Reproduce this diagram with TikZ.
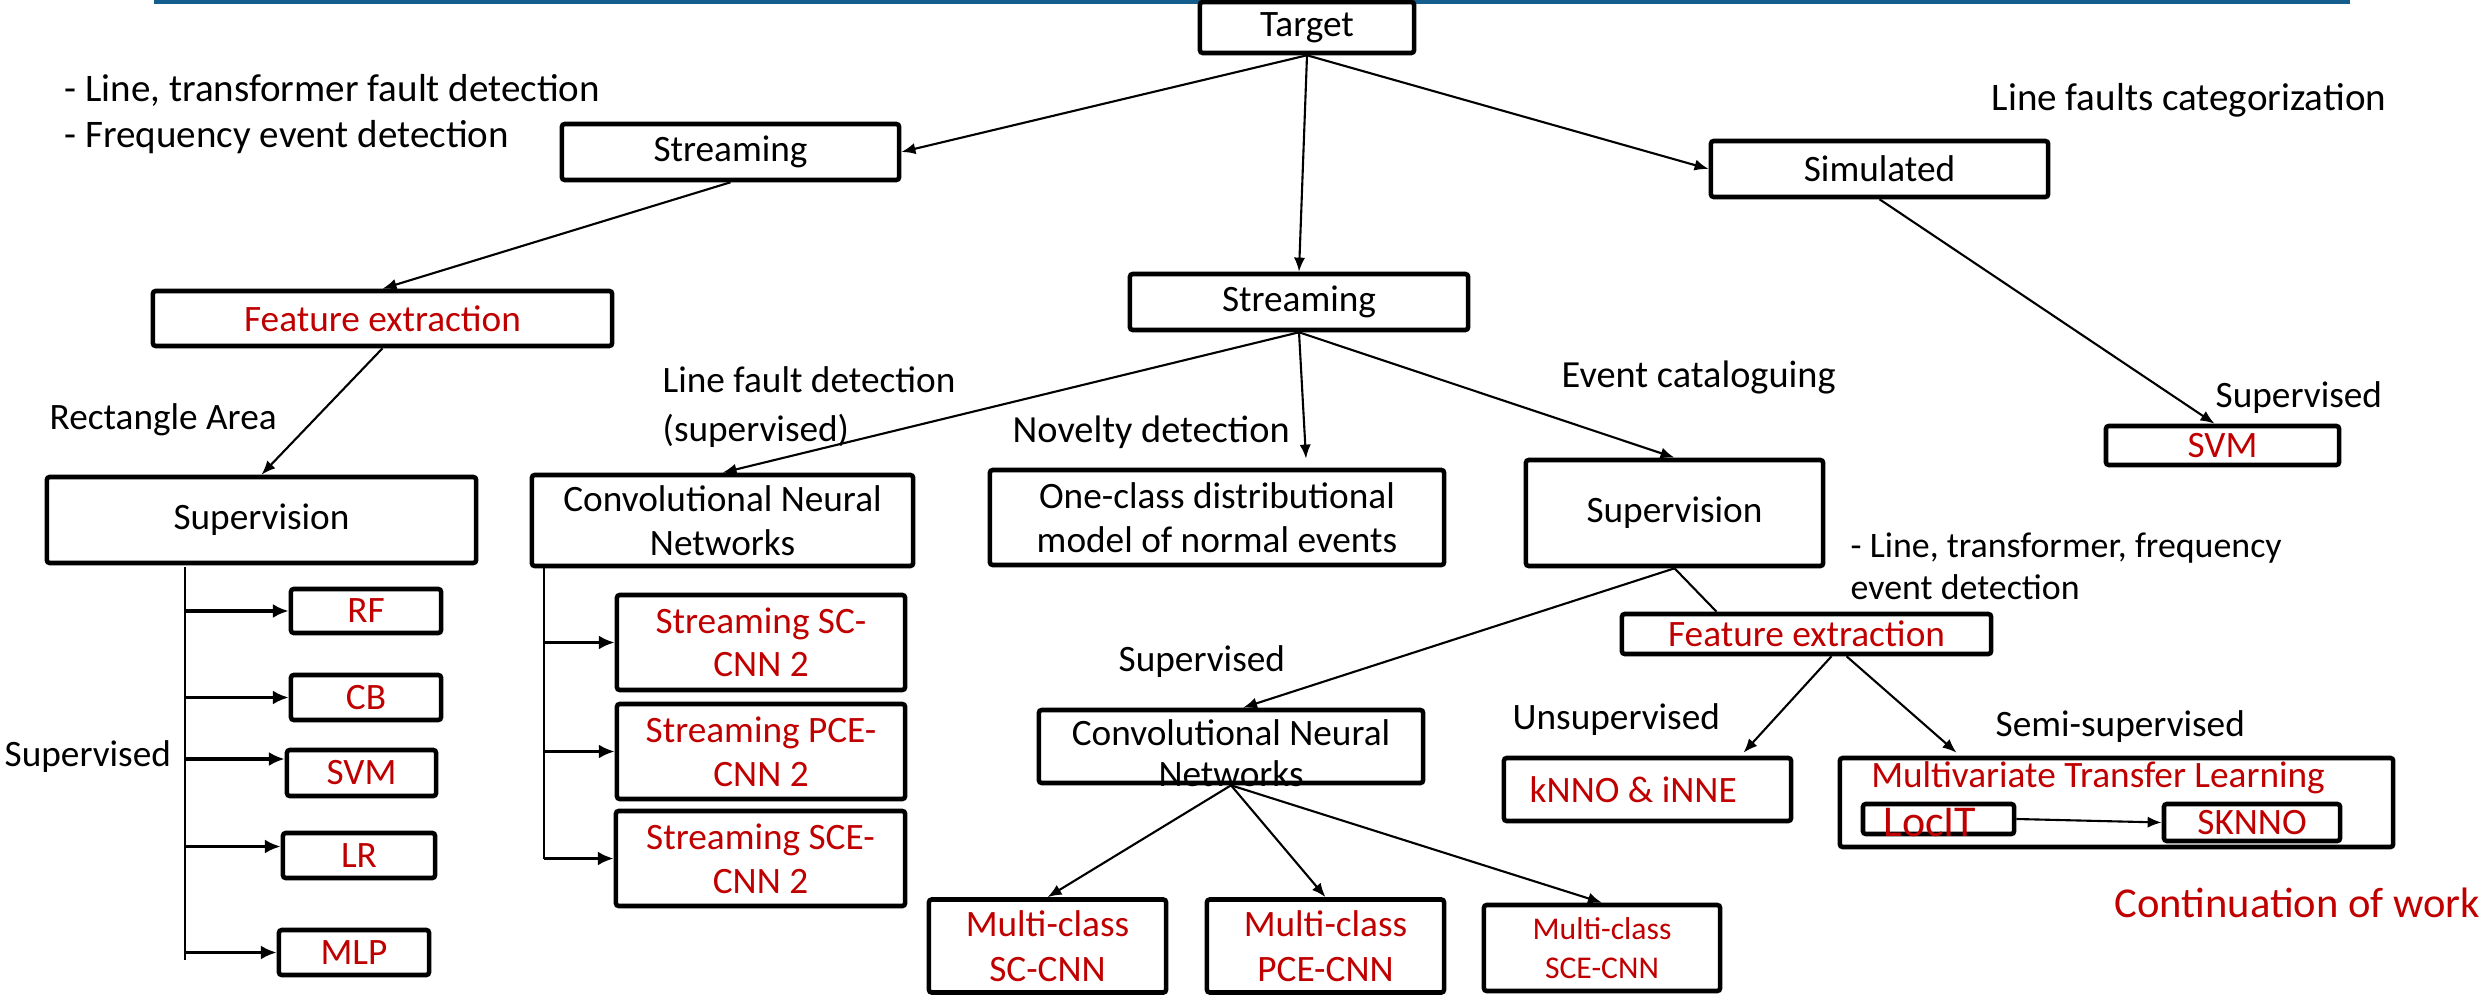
\documentclass[tikz,border=0pt]{standalone}
\usepackage{fontspec}
\setmainfont{Carlito}
\usetikzlibrary{arrows.meta,calc}
\definecolor{darkred}{RGB}{192,0,0}
\definecolor{barblue}{RGB}{20,93,140}

\begin{document}
\begin{tikzpicture}[x=0.01cm, y=-0.01cm, >={Latex[length=4pt,width=3.2pt]},
    box/.style={draw, fill=white, line width=1.3pt, rounded corners=0.8pt, inner sep=0pt, align=center, font=\fontsize{10.6}{12.4}\selectfont},
    lbl/.style={anchor=west, inner sep=0pt, align=left, font=\fontsize{10.6}{12.4}\selectfont},
    redtxt/.style={text=darkred},
    conn/.style={->, line width=0.6pt},
    branch/.style={-{Latex[length=4.5pt,width=4pt]}, line width=0.9pt}]
    \useasboundingbox (0,0) rectangle (2483,998);
    \fill[barblue] (154,0) rectangle (2350,4);

    % Top level
    \node[box, minimum width=2.14cm, minimum height=0.51cm] (target) at (1307,27.5) {Target};
    \node[box, minimum width=3.37cm, minimum height=0.56cm] (stream1) at (730.5,152) {Streaming};
    \node[box, minimum width=3.38cm, minimum height=0.56cm] (stream2) at (1299,302) {Streaming};
    \node[box, minimum width=3.37cm, minimum height=0.56cm] (simulated) at (1879.5,169) {Simulated};

    \node[lbl, font=\fontsize{11.1}{13}\selectfont] (lineTrans) at (64,90) {- Line, transformer fault detection};
    \node[lbl, font=\fontsize{11.1}{13}\selectfont] (freqEvent) at (64,137) {- Frequency event detection};
    \node[lbl, font=\fontsize{11.1}{13}\selectfont] (lineCat) at (1991,100) {Line faults categorization};

    % Left branch
    \node[box, redtxt, minimum width=4.59cm, minimum height=0.55cm] (featL) at (382.5,318.5) {Feature extraction};
    \node[lbl] (rectArea) at (49,420) {Rectangle Area};
    \node[box, minimum width=4.29cm, minimum height=0.86cm] (supL) at (261.5,520) {Supervision};
    \node[lbl] (supvL) at (4,757) {Supervised};
    \node[box, redtxt, minimum width=1.50cm, minimum height=0.44cm] (rf) at (366,611) {RF};
    \node[box, redtxt, minimum width=1.50cm, minimum height=0.45cm] (cb) at (366,697.5) {CB};
    \node[box, redtxt, minimum width=1.49cm, minimum height=0.46cm] (svmL) at (361.5,773) {SVM};
    \node[box, redtxt, minimum width=1.52cm, minimum height=0.45cm] (lr) at (359,855.5) {LR};
    \node[box, redtxt, minimum width=1.50cm, minimum height=0.45cm] (mlp) at (354,952.5) {MLP};

    % Middle branch
    \node[lbl, font=\fontsize{10.6}{14}\selectfont] (lineFault) at (662,407) {Line fault detection\\(supervised)};
    \node[lbl, font=\fontsize{10.9}{13}\selectfont] (novelty) at (1012,432) {Novelty detection};
    \node[lbl, font=\fontsize{10.9}{13}\selectfont] (eventCat) at (1561,377) {Event cataloguing};
    \node[box, minimum width=3.81cm, minimum height=0.91cm] (cnnL) at (722.5,520.5) {Convolutional Neural\\Networks};
    \node[box, minimum width=4.54cm, minimum height=0.95cm] (oneclass) at (1217,517.5) {One-class distributional\\model of normal events};
    \node[box, minimum width=2.97cm, minimum height=1.06cm] (supR) at (1674.5,513) {Supervision};
    \node[box, redtxt, minimum width=2.88cm, minimum height=0.95cm] (sc2) at (761,642.5) {Streaming SC-\\CNN 2};
    \node[box, redtxt, minimum width=2.88cm, minimum height=0.95cm] (pce2) at (761,751.5) {Streaming PCE-\\CNN 2};
    \node[box, redtxt, minimum width=2.89cm, minimum height=0.95cm] (sce2) at (760.5,858.5) {Streaming SCE-\\CNN 2};

    \node[lbl] (supvM) at (1118,662) {Supervised};
    \node[box, minimum width=3.84cm, minimum height=0.73cm] (cnnM) at (1231,746.5) {};
    \node[align=center, inner sep=0pt, font=\fontsize{10.6}{11.8}\selectfont] (cnnMtxt) at (1231,753) {Convolutional Neural\\Networks};
    \node[box, redtxt, minimum width=2.37cm, minimum height=0.93cm, font=\fontsize{10.6}{12.8}\selectfont] (mcSC) at (1047.5,946) {Multi-class\\SC-CNN};
    \node[box, redtxt, minimum width=2.37cm, minimum height=0.93cm, font=\fontsize{10.6}{12.8}\selectfont] (mcPCE) at (1325.5,946) {Multi-class\\PCE-CNN};
    \node[box, redtxt, minimum width=2.36cm, minimum height=0.86cm, font=\fontsize{9}{11}\selectfont] (mcSCE) at (1602,948) {Multi-class\\SCE-CNN};

    % Right branch
    \node[lbl, font=\fontsize{10.2}{12}\selectfont] (lineTF) at (1850,566) {- Line, transformer, frequency\\event detection};
    \node[box, redtxt, minimum width=3.69cm, minimum height=0.40cm] (featR) at (1806.5,634) {Feature extraction};
    \node[lbl] (unsup) at (1512,720) {Unsupervised};
    \node[lbl] (semisup) at (1995,727) {Semi-supervised};
    \node[box, minimum width=2.87cm, minimum height=0.63cm] (knno) at (1647.5,789.5) {};
    \node[lbl, redtxt] (knnotxt) at (1529,790) {kNNO \& iNNE};
    \node[box, minimum width=5.53cm, minimum height=0.89cm] (mtl) at (2116.5,802.5) {};
    \node[redtxt, inner sep=0pt, font=\fontsize{10.6}{12.4}\selectfont] (mtltxt) at (2098,778) {Multivariate Transfer Learning};
    \node[box, minimum width=1.51cm, minimum height=0.30cm] (locit) at (1938.5,819) {};
    \node[redtxt, anchor=base, inner sep=0pt, font=\fontsize{12.5}{14}\selectfont] (locittxt) at (1930,836) {LocIT};
    \node[box, redtxt, minimum width=1.76cm, minimum height=0.37cm] (sknno) at (2252,822.5) {SKNNO};
    \node[lbl] (supvR) at (2215,398) {Supervised};
    \node[box, redtxt, minimum width=2.33cm, minimum height=0.39cm] (svmR) at (2222.5,445.5) {SVM};
    \node[lbl, redtxt, font=\fontsize{12.1}{14}\selectfont] (contWork) at (2114,903) {Continuation of work};

    % Connectors
    \draw[conn] (target.south) -- (stream1.east);
    \draw[conn] (target.south) -- (stream2.north);
    \draw[conn] (target.south) -- (simulated.west);
    \draw[conn] (stream1.south) -- (featL.north);
    \draw[conn] (featL.south) -- (supL.north);
    \draw[conn] (stream2.south) -- (cnnL.north);
    \draw[conn] (stream2.south) -- ($(oneclass.north)+(89,-9)$);
    \draw[conn] (stream2.south) -- (supR.north);
    \draw[conn] (simulated.south) -- ($(svmR.north)+(-8,0)$);
    \draw[conn] (supR.south) -- ($(cnnM.north)+(12,0)$);
    \draw[line width=0.6pt] (supR.south) -- ($(featR.north)+(-90,0)$);
    \draw[conn] ($(featR.south)+(25,0)$) -- ($(knno.north)+(96,-3)$);
    \draw[conn] ($(featR.south)+(40,0)$) -- ($(mtl.north)+(-160,-3)$);
    \draw[conn] (cnnM.south) -- (mcSC.north);
    \draw[conn] (cnnM.south) -- (mcPCE.north);
    \draw[conn] (cnnM.south) -- (mcSCE.north);
    \draw[conn] (locit.east) -- (sknno.west);

    % Trees
    \coordinate (supLtop) at (185,567);
    \coordinate (supLend) at (185,960);
    \draw[line width=0.5pt] (supLtop) -- (supLend);
    \foreach \n/\dy in {rf/0, cb/0, svmL/-14, lr/-9, mlp/0}
        \draw[branch] ($(\n.west -| supLtop)+(0,\dy)$) -- ($(\n.west)+(0,\dy)$);
    \coordinate (cnnLtop) at (544,568);
    \coordinate (cnnLend) at (544,859);
    \draw[line width=0.5pt] (cnnLtop) -- (cnnLend);
    \foreach \n in {sc2, pce2, sce2}
        \draw[branch] (\n.west -| cnnLtop) -- (\n.west);
\end{tikzpicture}
\end{document}
